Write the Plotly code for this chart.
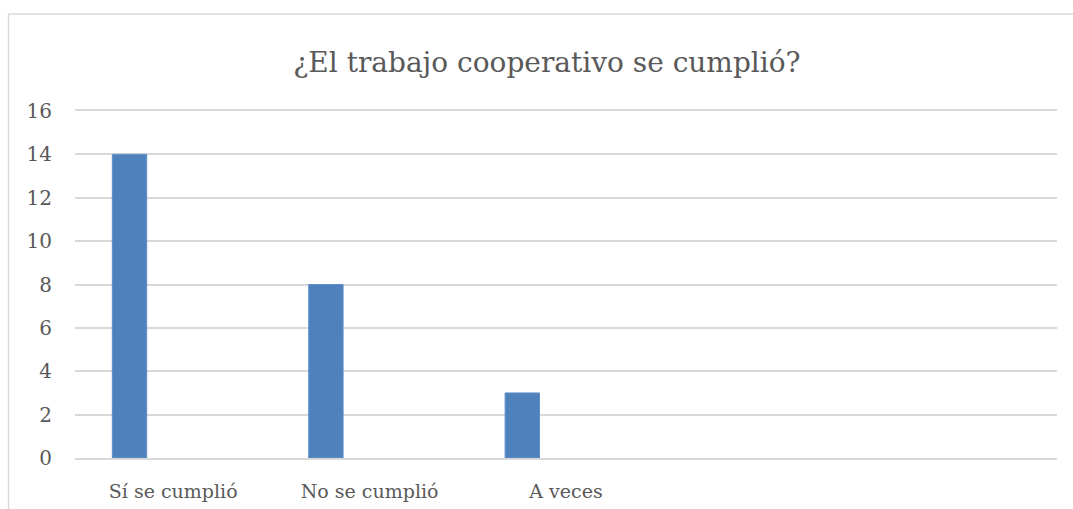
import plotly.graph_objects as go

categories = ["Sí se cumplió", "No se cumplió", "A veces"]
values = [14, 8, 3]
all_slots = ["Sí se cumplió", "No se cumplió", "A veces", " ", "  "]
y_ticks = [0, 2, 4, 6, 8, 10, 12, 14, 16]

W, H = 1073, 509
L, T = 75, 111
R = W - 1057
B = H - 458
pw, ph = W - L - R, H - T - B

def px_x(p):
    return (p - L) / pw

def px_y(p):
    return (H - B - p) / ph

fig = go.Figure()
fig.add_trace(go.Bar(
    x=categories, y=values,
    width=0.175, offset=-0.31,
    marker=dict(color="#4f81bd", line=dict(color="#5f8ec8", width=1)),
    showlegend=False, hoverinfo="x+y",
))

font_family = "DejaVu Serif, serif"
fig.update_layout(
    width=W, height=H,
    margin=dict(l=L, r=R, t=T, b=B, autoexpand=False),
    paper_bgcolor="white", plot_bgcolor="white",
    title=dict(text="¿El trabajo cooperativo se cumplió?", x=px_x(547), xref="paper",
               xanchor="center", y=1 - 62 / H, yanchor="middle",
               font=dict(family=font_family, size=28, color="#595959")),
    xaxis=dict(type="category", categoryorder="array", categoryarray=all_slots,
               range=[-0.5, 4.5], showgrid=False, zeroline=False, automargin=False,
               showline=True, mirror=True, linecolor="#d9d9d9", linewidth=1.5,
               tickfont=dict(family=font_family, size=19, color="#595959"),
               ticks="outside", ticklen=15, tickcolor="rgba(0,0,0,0)"),
    yaxis=dict(range=[0, 16], tickvals=y_ticks, showgrid=True, gridcolor="#d9d9d9",
               gridwidth=1.5, zeroline=False, showline=False, automargin=False,
               tickfont=dict(family=font_family, size=20, color="#595959"),
               ticks="outside", ticklen=18, tickcolor="rgba(0,0,0,0)"),
    shapes=[dict(type="rect", xref="paper", yref="paper",
                 x0=px_x(8.5), x1=px_x(1090), y0=px_y(540), y1=px_y(14),
                 line=dict(color="#d9d9d9", width=1.5), fillcolor="rgba(0,0,0,0)",
                 layer="below")],
)

fig.write_html(
    "out.html",
    config={"displayModeBar": False},
    post_script="document.body.style.margin='0';document.documentElement.style.overflow='hidden';",
)
